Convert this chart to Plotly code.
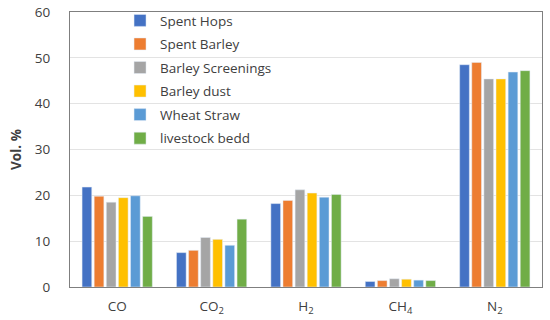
import plotly.graph_objects as go

categories = ["CO", "CO<sub>2</sub>", "H<sub>2</sub>", "CH<sub>4</sub>", "N<sub>2</sub>"]
series_names = ["Spent Hops", "Spent Barley", "Barley Screenings", "Barley dust", "Wheat Straw", "livestock bedd"]
spent_hops = [21.8, 7.5, 18.2, 1.2, 48.5]
spent_barley = [19.8, 8.0, 18.9, 1.4, 49.0]
barley_screenings = [18.5, 10.8, 21.2, 1.8, 45.4]
barley_dust = [19.5, 10.4, 20.5, 1.7, 45.4]
wheat_straw = [19.9, 9.1, 19.6, 1.5, 46.9]
livestock_bedd = [15.4, 14.8, 20.2, 1.4, 47.2]
y_ticks = [0, 10, 20, 30, 40, 50, 60]

colors = ["#4472C4", "#ED7D31", "#A5A5A5", "#FFC000", "#5B9BD5", "#70AD47"]
all_values = [spent_hops, spent_barley, barley_screenings, barley_dust, wheat_straw, livestock_bedd]

fig = go.Figure()
for i, (name, vals) in enumerate(zip(series_names, all_values)):
    fig.add_trace(go.Bar(x=categories, y=vals, name=name, marker_color=colors[i],
                         legendgroup=f"g{i}"))

fig.update_layout(
    width=550, height=320,
    margin=dict(l=70, r=8, t=12, b=33, autoexpand=False),
    plot_bgcolor="white", paper_bgcolor="white",
    barmode="group", bargap=0.23, bargroupgap=0.2,
    font=dict(family="Open Sans", size=13.5, color="#404040"),
    legend=dict(x=0.106, y=1.025, xanchor="left", yanchor="top",
                bgcolor="rgba(0,0,0,0)", tracegroupgap=3,
                font=dict(size=13.5, color="#404040"), itemwidth=30),
    yaxis=dict(range=[0, 60], tickvals=y_ticks, showgrid=True, gridcolor="#E3E3E3",
               showline=True, linecolor="#7F7F7F", mirror=True, ticks="",
               ticklabelstandoff=16, ticklabeloverflow="allow",
               title=dict(text="<b>Vol. %</b>", font=dict(size=13.5), standoff=10), zeroline=False),
    xaxis=dict(showline=True, linecolor="#7F7F7F", mirror=True, ticks="",
               ticklabelstandoff=7, ticklabeloverflow="allow"),
)
fig.write_html("out.html", config={"displayModeBar": False},
               post_script="document.body.style.margin='0';")
